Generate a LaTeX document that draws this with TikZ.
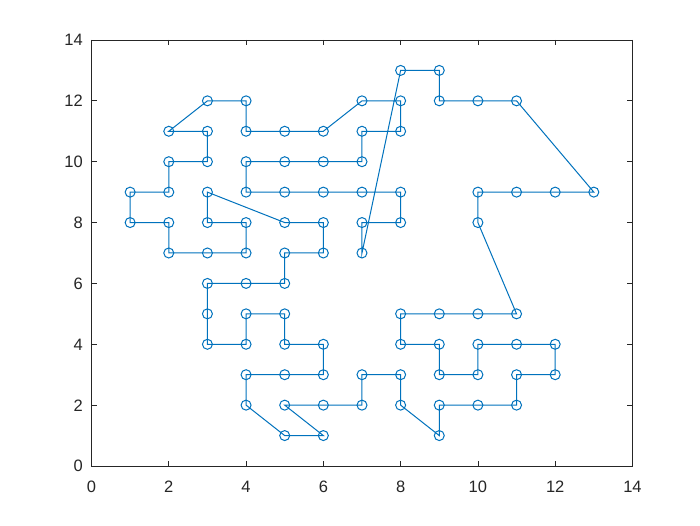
\documentclass[tikz,border=0pt]{standalone}
\usepackage{fontspec}
\setmainfont{Liberation Sans}
\definecolor{mblue}{HTML}{0072BD}
\definecolor{axc}{HTML}{262626}
\begin{document}
\begin{tikzpicture}[x=1pt,y=1pt,
  mk/.style={circle,draw=mblue,line width=1pt,minimum size=10pt,inner sep=0pt},
  pl/.style={draw=mblue,line width=1pt},
  axline/.style={draw=axc,line width=0.75pt},
  lbl/.style={font=\fontsize{16.5}{18}\selectfont,text=axc,inner sep=0pt}]
\useasboundingbox (0,0) rectangle (700,525);
\fill[white] (0,0) rectangle (700,525);
\begin{scope}[shift={(91.5pt,59pt)},x=38.64pt,y=30.43pt]
  \draw[axline] (0,0) rectangle (14,14);
  \foreach \v in {0,2,...,14}{
    \draw[axline] (\v,0) -- ++(0,5pt);
    \draw[axline] (\v,14) -- ++(0,-5pt);
    \draw[axline] (0,\v) -- ++(5pt,0);
    \draw[axline] (14,\v) -- ++(-5pt,0);
    \node[lbl,anchor=base] (xl\v) at ([yshift=-26pt]\v,0) {\v};
    \node[lbl,anchor=base east] (yl\v) at ([xshift=-8.5pt,yshift=-5.9pt]0,\v) {\v};
  }
  \foreach \px/\py [count=\i] in {3/12,4/12,4/11,5/11,6/11,7/12,8/12,8/11,7/11,7/10,
    6/10,5/10,4/10,4/9,5/9,6/9,7/9,8/9,8/8,7/8,
    7/7,8/13,9/13,9/12,10/12,11/12,13/9,12/9,11/9,10/9,
    10/8,11/5,10/5,9/5,8/5,8/4,9/4,9/3,10/3,10/4,
    11/4,12/4,12/3,11/3,11/2,10/2,9/2,9/1,8/2,8/3,
    7/3,7/2,6/2,5/2,6/1,5/1,4/2,4/3,5/3,6/3,
    6/4,5/4,5/5,4/5,4/4,3/4,3/5,3/6,4/6,5/6,
    5/7,6/7,6/8,5/8,3/9,3/8,4/8,4/7,3/7,2/7,
    2/8,1/8,1/9,2/9,2/10,3/10,3/11,2/11}
    \node[mk] (p\i) at (\px,\py) {};
  \draw[pl] (p1.center) \foreach \i in {2,...,88}{ -- (p\i.center)} -- cycle;
\end{scope}
\end{tikzpicture}
\end{document}
